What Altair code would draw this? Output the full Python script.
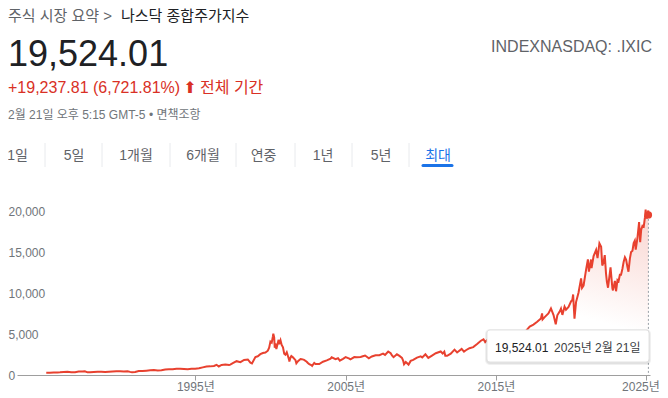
import altair as alt
import pandas as pd

# ---------------- data ----------------
DATES = [
    "1985-01-31", "1985-04-30", "1985-07-31", "1985-10-31", "1985-12-31",
    "1986-03-31", "1986-06-30", "1986-09-30", "1986-12-31",
    "1987-03-31", "1987-06-30", "1987-08-26", "1987-10-30", "1987-12-31",
    "1988-03-31", "1988-06-30", "1988-09-30", "1988-12-30",
    "1989-03-31", "1989-06-30", "1989-09-29", "1989-12-29",
    "1990-03-30", "1990-06-29", "1990-08-31", "1990-10-16", "1990-12-31",
    "1991-03-28", "1991-06-28", "1991-09-30", "1991-12-31",
    "1992-03-31", "1992-06-30", "1992-09-30", "1992-12-31",
    "1993-03-31", "1993-06-30", "1993-09-30", "1993-12-31",
    "1994-03-31", "1994-06-30", "1994-09-30", "1994-12-30",
    "1995-03-31", "1995-06-30", "1995-09-29", "1995-12-29",
    "1996-03-29", "1996-05-31", "1996-07-24", "1996-09-30", "1996-12-31",
    "1997-03-31", "1997-04-30", "1997-06-30", "1997-09-30", "1997-12-31",
    "1998-03-31", "1998-06-30", "1998-08-31", "1998-10-08", "1998-12-31",
    "1999-02-26", "1999-04-30", "1999-06-30", "1999-08-31", "1999-10-29", "1999-11-30", "1999-12-31",
    "2000-01-31", "2000-02-29", "2000-03-10", "2000-03-31", "2000-04-14", "2000-04-28", "2000-05-23",
    "2000-06-30", "2000-07-17", "2000-07-31", "2000-09-01", "2000-09-29", "2000-10-31", "2000-11-30", "2000-12-29",
    "2001-01-31", "2001-03-30", "2001-04-04", "2001-04-30", "2001-05-22", "2001-06-29", "2001-08-31",
    "2001-09-21", "2001-10-31", "2001-12-31",
    "2002-01-31", "2002-03-28", "2002-05-31", "2002-06-28", "2002-07-31", "2002-09-30", "2002-10-09",
    "2002-11-29", "2002-12-31",
    "2003-02-28", "2003-03-31", "2003-06-30", "2003-09-30", "2003-12-31",
    "2004-01-26", "2004-04-30", "2004-06-30", "2004-08-12", "2004-10-29", "2004-12-31",
    "2005-03-31", "2005-04-28", "2005-07-29", "2005-09-30", "2005-12-30",
    "2006-03-31", "2006-04-19", "2006-07-18", "2006-09-29", "2006-12-29",
    "2007-03-30", "2007-06-29", "2007-08-16", "2007-10-31", "2007-12-31",
    "2008-01-31", "2008-03-10", "2008-05-30", "2008-07-31", "2008-09-30", "2008-10-31", "2008-11-20", "2008-12-31",
    "2009-03-09", "2009-04-30", "2009-06-30", "2009-09-30", "2009-12-31",
    "2010-02-05", "2010-04-23", "2010-07-02", "2010-09-30", "2010-12-31",
    "2011-04-29", "2011-06-17", "2011-07-26", "2011-08-19", "2011-10-03", "2011-12-30",
    "2012-03-30", "2012-06-01", "2012-09-19", "2012-11-15", "2012-12-31",
    "2013-03-28", "2013-06-28", "2013-09-30", "2013-12-31",
    "2014-03-05", "2014-04-14", "2014-06-30", "2014-09-30", "2014-10-15", "2014-12-31",
    "2015-03-31", "2015-07-20", "2015-08-24", "2015-11-30", "2015-12-31",
    "2016-02-11", "2016-04-29", "2016-06-27", "2016-09-30", "2016-12-30",
    "2017-03-31", "2017-06-30", "2017-09-29", "2017-12-29",
    "2018-01-26", "2018-02-08", "2018-03-30", "2018-06-29", "2018-08-29", "2018-10-31", "2018-12-24",
    "2019-01-31", "2019-03-29", "2019-04-30", "2019-06-03", "2019-07-26", "2019-08-30", "2019-10-31", "2019-12-31",
    "2020-01-31", "2020-02-19", "2020-03-23", "2020-04-30", "2020-06-30", "2020-08-31", "2020-09-23",
    "2020-10-30", "2020-12-31",
    "2021-02-12", "2021-03-08", "2021-04-29", "2021-05-12", "2021-06-30", "2021-08-31", "2021-10-04",
    "2021-11-19", "2021-12-31",
    "2022-01-27", "2022-02-28", "2022-03-29", "2022-04-29", "2022-05-20", "2022-06-16", "2022-07-29",
    "2022-08-16", "2022-09-30", "2022-10-14", "2022-11-30", "2022-12-28",
    "2023-01-31", "2023-02-28", "2023-03-31", "2023-04-28", "2023-05-31", "2023-06-30", "2023-07-31",
    "2023-08-31", "2023-09-29", "2023-10-26", "2023-11-30", "2023-12-29",
    "2024-01-31", "2024-02-29", "2024-03-28", "2024-04-19", "2024-05-31", "2024-07-10", "2024-08-05",
    "2024-08-30", "2024-09-30", "2024-10-31", "2024-11-29", "2024-12-16", "2024-12-31",
    "2025-01-13", "2025-01-31", "2025-02-19", "2025-02-21",
]
VALUES = [
    278, 280, 301, 300, 325,
    374, 405, 350, 349,
    430, 424, 455, 323, 331,
    374, 394, 387, 381,
    407, 435, 472, 454,
    435, 462, 381, 329, 374,
    482, 475, 527, 586,
    603, 563, 583, 677,
    690, 704, 763, 777,
    743, 706, 764, 752,
    817, 933, 1044, 1052,
    1101, 1243, 1042, 1227, 1291,
    1222, 1261, 1442, 1686, 1570,
    1835, 1895, 1499, 1419, 2193,
    2288, 2543, 2686, 2739, 2966, 3336, 4069,
    3940, 4696, 5048, 4573, 3321, 3861, 3164,
    3966, 4290, 3767, 4234, 3673, 3370, 2598, 2471,
    2773, 1840, 1639, 2116, 2313, 2161, 1805,
    1424, 1690, 1950,
    1934, 1845, 1616, 1463, 1328, 1172, 1114,
    1479, 1335,
    1337, 1341, 1623, 1787, 2003,
    2153, 1920, 2048, 1752, 1975, 2175,
    1999, 1904, 2185, 2151, 2205,
    2339, 2370, 2037, 2258, 2415,
    2421, 2603, 2451, 2859, 2652,
    2389, 2169, 2522, 2325, 2091, 1720, 1316, 1577,
    1268, 1717, 1835, 2122, 2269,
    2141, 2530, 2091, 2368, 2653,
    2873, 2616, 2840, 2341, 2335, 2605,
    3091, 2747, 3182, 2846, 3020,
    3268, 3403, 3771, 4177,
    4358, 4022, 4408, 4493, 4215, 4736,
    4901, 5219, 4506, 5109, 5007,
    4266, 4775, 4594, 5312, 5383,
    5911, 6140, 6496, 6903,
    7505, 6777, 7063, 7510, 8109, 7306, 6193,
    7282, 7729, 8095, 7333, 8330, 7963, 8292, 8973,
    9151, 9817, 6860, 8890, 10059, 11775, 10633,
    10912, 12888,
    14095, 12609, 14082, 13032, 14504, 15259, 14255,
    16057, 15645,
    13352, 13751, 14620, 12335, 11354, 10646, 12391,
    13128, 10576, 10321, 11468, 10213,
    11585, 11456, 12222, 12227, 12935, 13788, 14346,
    14035, 13219, 12596, 14226, 15011,
    15164, 16092, 16379, 15282, 16735, 18647, 16200,
    17714, 18189, 18095, 19218, 20173, 19311,
    19088, 19627, 20056, 19524.01,
]
Y_TICKS = [0, 5000, 10000, 15000, 20000]
X_TICK_YEARS = [1995, 2005, 2015, 2025]

BREADCRUMB = ["주식 시장 요약 >", "나스닥 종합주가지수"]
PRICE = "19,524.01"
TICKER = "INDEXNASDAQ: .IXIC"
CHANGE = "+19,237.81 (6,721.81%)"
ARROW = "⬆"
PERIOD = "전체 기간"
TIMESTAMP = "2월 21일 오후 5:15 GMT-5 • 면책조항"
TABS = ["1일", "5일", "1개월", "6개월", "연중", "1년", "5년", "최대"]
TIP_DATE = "2025년 2월 21일"

# ---------------- layout / style ----------------
FONT = "Liberation Sans, Noto Sans CJK KR"
RED = "#e8412f"
TEXT_RED = "#d93025"
GRAY = "#70757a"
DARK = "#202124"
BLUE = "#1a73e8"
TAB_X = [9.5, 66, 128, 195, 255.5, 315, 373, 430]
SEP_X = [37, 94, 162, 228, 287, 344, 401]

df = pd.DataFrame({"date": DATES, "value": VALUES})
last = df.tail(1)
one = pd.DataFrame({"k": [0]})

x_scale = alt.Scale(
    domain=[alt.DateTime(year=1983, month=2, date=20), alt.DateTime(year=2025, month=4, date=1)],
    range=[9, 642], nice=False,
)
y_scale = alt.Scale(domain=[0, 20000], range=[367, 203], nice=False, zero=False)

x_axis = alt.Axis(
    values=[alt.DateTime(year=y, month=1, date=1) for y in X_TICK_YEARS],
    format="%Y년", title=None, grid=False,
    domainColor="#9e9e9e", tickColor="#9e9e9e", tickSize=5,
    labelColor=GRAY, labelFont=FONT, labelFontSize=12, labelPadding=1,
    labelOverlap=False, labelFlush=6, labelFlushOffset=13,
)
y_axis = alt.Axis(
    values=Y_TICKS, format=",.0f", title=None, grid=False, domain=False, ticks=False,
    tickSize=0, labelAlign="left", labelPadding=0, labelBaseline="middle",
    labelColor=GRAY, labelFont=FONT, labelFontSize=12, labelOverlap=False,
)

gradient = alt.Gradient(
    gradient="linear",
    stops=[
        alt.GradientStop(color="#ffffff", offset=0),
        alt.GradientStop(color="#ffffff", offset=0.62),
        alt.GradientStop(color="#f9d4cf", offset=1),
    ],
    x1=0, y1=1, x2=1, y2=0,
)

area = alt.Chart(df).mark_area(color=gradient).encode(
    x=alt.X("date:T", scale=x_scale, axis=x_axis),
    y=alt.Y("value:Q", scale=y_scale, axis=y_axis),
)
line = alt.Chart(df).mark_line(color=RED, strokeWidth=2).encode(
    x=alt.X("date:T", scale=x_scale, axis=x_axis),
    y=alt.Y("value:Q", scale=y_scale, axis=y_axis),
)
vrule = alt.Chart(last).mark_rule(color="#9aa0a6", strokeDash=[2, 2], strokeWidth=1).encode(
    x="date:T", y="value:Q", y2=alt.datum(0),
)
dot = alt.Chart(last).mark_circle(color=RED, size=55, opacity=1).encode(x="date:T", y="value:Q")


def txt(text, x, y, size, color, align="left", baseline="alphabetic", font=FONT, weight="normal"):
    return alt.Chart(one).mark_text(
        text=text, align=align, baseline=baseline, fontSize=size, color=color,
        font=font, fontWeight=weight,
    ).encode(x=alt.value(x), y=alt.value(y))


def box(x, x2, y, y2, fill, opacity=1.0, stroke=None, radius=0):
    kw = dict(fill=fill, opacity=opacity, cornerRadius=radius)
    if stroke:
        kw["stroke"] = stroke
        kw["strokeWidth"] = 1
    return alt.Chart(one).mark_rect(**kw).encode(
        x=alt.value(x), x2=alt.value(x2), y=alt.value(y), y2=alt.value(y2)
    )


tip_value = f"{VALUES[-1]:,.2f}"
tooltip = [
    box(477, 643, 321, 357, "#000000", opacity=0.06, radius=5),
    box(478, 642, 322, 356, "#000000", opacity=0.06, radius=4),
    box(479, 641, 322, 354, "#ffffff", stroke="#e3e3e3", radius=3),
    txt(tip_value, 487, 344, 12, DARK),
    txt(TIP_DATE, 546, 344, 12, "#3c4043"),
]

header = [
    txt(BREADCRUMB[0], 0, 13, 15, "#5f6368"),
    txt(BREADCRUMB[1], 113, 13, 15, DARK),
    txt(PRICE, 0, 58, 36, DARK),
    txt(TICKER, 644, 44, 16, "#5f6368", align="right"),
    txt(CHANGE, 0, 85, 16, TEXT_RED),
    txt(ARROW, 182, 85, 16, TEXT_RED, align="center", font="DejaVu Sans"),
    txt(PERIOD, 192, 85, 16, TEXT_RED),
    txt(TIMESTAMP, 0, 111, 12, GRAY),
]

tabs = []
for i, (t, x) in enumerate(zip(TABS, TAB_X)):
    tabs.append(txt(t, x, 148, 14, BLUE if i == len(TABS) - 1 else "#5f6368",
                    align="center", baseline="middle"))
for sx in SEP_X:
    tabs.append(
        alt.Chart(one).mark_rule(color="#e8eaed", strokeWidth=1).encode(
            x=alt.value(sx), y=alt.value(135), y2=alt.value(159)
        )
    )
tabs.append(
    alt.Chart(one).mark_rule(color=BLUE, strokeWidth=3, strokeCap="round").encode(
        x=alt.value(415), x2=alt.value(444), y=alt.value(157.5)
    )
)

chart = alt.layer(
    area, line, vrule, dot, *tooltip, *header, *tabs
).properties(
    width=652, height=367,
    autosize=alt.AutoSizeParams(type="none"),
    padding={"left": 0, "top": 0, "right": 0, "bottom": 22},
    background="white",
).configure_view(stroke=None)

chart.save("out.html", embed_options={"renderer": "svg", "actions": False})
